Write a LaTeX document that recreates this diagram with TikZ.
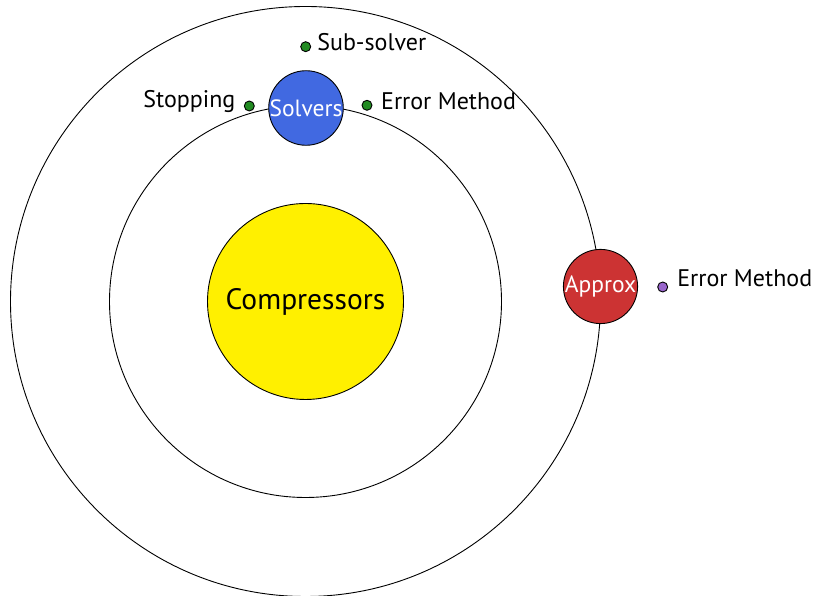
\documentclass[tikz,border=0pt]{standalone}
\usepackage{fontspec}
\setmainfont{PT Sans}

\definecolor{sunyellow}{RGB}{255,240,0}
\definecolor{solverblue}{RGB}{65,105,225}
\definecolor{approxred}{RGB}{204,51,51}
\definecolor{moongreen}{RGB}{34,139,34}
\definecolor{moonpurple}{RGB}{153,102,204}

\tikzset{
  orbit/.style={draw=black, line width=0.9pt},
  planet/.style={circle, draw=black, line width=0.9pt, minimum size=73pt,
    inner sep=0pt, text=white, font=\fontsize{23.5}{23.5}\selectfont},
  moon/.style={circle, draw=black, line width=0.9pt, minimum size=10pt,
    inner sep=0pt},
  moonlabel/.style={inner sep=0pt, font=\fontsize{24}{24}\selectfont},
}

\begin{document}
\begin{tikzpicture}[x=1pt, y=1pt]
  \useasboundingbox (0,0) rectangle (814,596);
  \coordinate (centre) at (305.5,294.5);
  % --- Orbits ---
  \draw[orbit] (centre) circle (295);
  \draw[orbit] (centre) circle (196);
  % --- Sun in the middle ---
  \node[circle, draw=black, line width=0.9pt, fill=sunyellow,
        minimum size=196pt, font=\fontsize{29.5}{29.5}\selectfont]
    (compressors) at (centre) {Compressors};
  % --- Solvers on the inner orbit, with its moons ---
  \node[planet, fill=solverblue] (solvers) at (306,488) {Solvers};
  \node[moon, fill=moongreen] (subdot) at (305.7,549.3) {};
  \node[moonlabel, anchor=base west] (sublabel)
    at ([xshift=6pt, yshift=-4pt]subdot.east) {Sub-solver};
  \node[moon, fill=moongreen] (stopdot) at (249.3,490) {};
  \node[moonlabel, anchor=base east] (stoplabel)
    at ([xshift=-8.3pt, yshift=-1.3pt]stopdot.west) {Stopping};
  \node[moon, fill=moongreen] (errdot) at (367,490.7) {};
  \node[moonlabel, anchor=base west] (errlabel)
    at ([xshift=8.5pt, yshift=-4.7pt]errdot.east) {Error Method};
  % --- Approx on the outer orbit, with its moon ---
  \node[planet, fill=approxred] (approx) at (600.5,309.5) {Approx};
  \node[moon, fill=moonpurple] (approxdot) at (662.7,309) {};
  \node[moonlabel, anchor=base west] (approxlabel)
    at ([xshift=9pt]approxdot.east) {Error Method};
\end{tikzpicture}
\end{document}
